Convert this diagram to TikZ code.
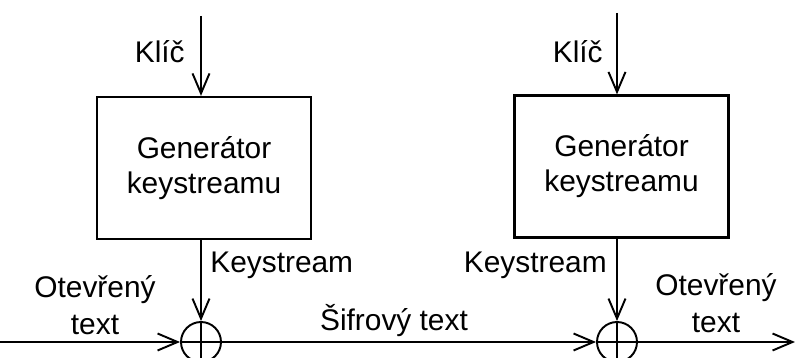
\documentclass[tikz,border=0pt]{standalone}
\usepackage{fontspec}
\setmainfont{Liberation Sans}
\usetikzlibrary{arrows.meta,positioning}

\tikzset{
  genbox/.style={draw,line width=1.3pt,minimum width=4.28cm,minimum height=2.84cm,align=center,font=\fontsize{17}{19.9}\selectfont},
  xorring/.style={draw,circle,line width=1.1pt,minimum size=0.8cm,inner sep=0pt},
  flow/.style={line width=1.1pt,-{Straight Barb[length=0.4cm,width=0.34cm]}},
  wire/.style={line width=1.1pt},
  lbl/.style={font=\fontsize{17}{21}\selectfont,inner sep=0pt}
}

\begin{document}
\begin{tikzpicture}[x=0.02cm,y=-0.02cm]
  \useasboundingbox (0,0) rectangle (795,358);
  % generators and xor rings
  \node[genbox] (gen1) at (204,168) {Generátor\\keystreamu};
  \node[genbox] (gen2) at (621.5,166.5) {Generátor\\keystreamu};
  \node[xorring] (xor1) at (201,342) {};
  \node[xorring] (xor2) at (617,342) {};
  \coordinate (key1) at (201,16);
  \coordinate (key2) at (617,13);
  \coordinate (in) at (0,342);
  \coordinate (out) at (795,342);

  % keys and keystreams
  \draw[flow] (key1) -- (key1 |- gen1.north);
  \draw[flow] (key2) -- (key2 |- gen2.north);
  \draw[flow] (key1 |- gen1.south) -- (xor1.north);
  \draw[flow] (key2 |- gen2.south) -- (xor2.north);

  % text line
  \draw[flow] (in) -- (xor1.west);
  \draw[flow] (xor1.east) -- (xor2.west);
  \draw[flow] (xor2.east) -- (out);
  \draw[wire] (xor1.west) -- (xor1.east) (xor1.north) -- (xor1.south);
  \draw[wire] (xor2.west) -- (xor2.east) (xor2.north) -- (xor2.south);

  % labels
  \node[lbl,anchor=base east] (klic1) at (185,63) {Klíč};
  \node[lbl,anchor=base east] (klic2) at (603,63) {Klíč};
  \node[lbl,anchor=base west] (ks1) at (210,273) {Keystream};
  \node[lbl,anchor=base east] (ks2) at (607,273) {Keystream};
  \node[lbl,align=center] (pt1) at (95,305) {Otevřený\\text};
  \node[lbl,align=center] (pt2) at (716,303) {Otevřený\\text};
  \node[lbl,anchor=base] (ct) at (394,330) {Šifrový text};
\end{tikzpicture}
\end{document}
